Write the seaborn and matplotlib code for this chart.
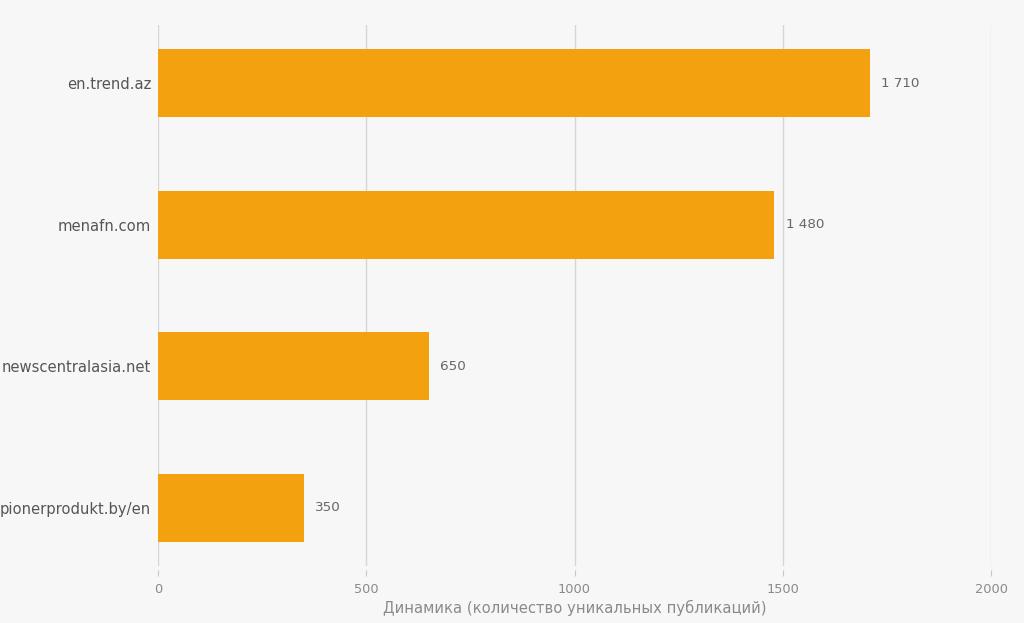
import matplotlib
matplotlib.use("Agg")
import matplotlib.pyplot as plt
import seaborn as sns
import pandas as pd

sites = ["en.trend.az", "menafn.com", "newscentralasia.net", "pionerprodukt.by/en"]
counts = [1710, 1480, 650, 350]
x_ticks = [0, 500, 1000, 1500, 2000]
x_label = "Динамика (количество уникальных публикаций)"

df = pd.DataFrame({"site": sites, "count": counts})

sns.set_theme(style="white")
plt.rcParams["font.family"] = ["DejaVu Sans"]

bg = "#f7f7f7"
fig = plt.figure(figsize=(10.24, 6.23), dpi=100, facecolor=bg)
ax = fig.add_axes([158/1024, 1-566/623, (991-158)/1024, (566-25)/623])
ax.set_facecolor(bg)

sns.barplot(data=df, x="count", y="site", orient="h", color="#f4a10f",
            saturation=1, width=0.48, linewidth=0, edgecolor="none", ax=ax)

ax.set_xlim(0, 2000)
ax.set_ylim(3.41, -0.41)
ax.set_xticks(x_ticks)
ax.set_xticklabels([str(t) for t in x_ticks])
ax.grid(axis="x", color="#d6d6d6", linewidth=1)
ax.set_axisbelow(True)
for s in ax.spines.values():
    s.set_visible(False)
ax.spines["bottom"].set_position(("outward", 3))
ax.tick_params(axis="x", length=4, width=0.8, color="#c8c8c8", labelsize=9.3,
               labelcolor="#8a8a8a", pad=5, bottom=True)
ax.tick_params(axis="y", length=0, labelsize=10.6, labelcolor="#555555", pad=5)
ax.set_ylabel("")
ax.set_xlabel(x_label, fontsize=10.6, color="#8a8a8a", labelpad=3)

labels = [f"{v:,}".replace(",", " ") for v in counts]
ax.bar_label(ax.containers[0], labels=labels, padding=8, fontsize=9.7, color="#666666")

fig.savefig("out.png", dpi=100, facecolor=bg)
